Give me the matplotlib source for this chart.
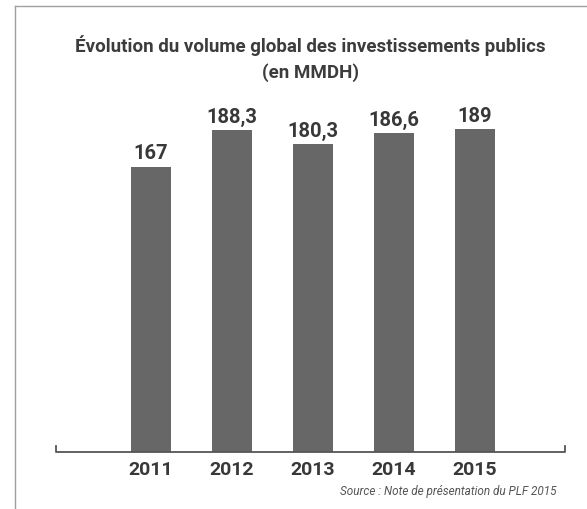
import matplotlib
matplotlib.use("Agg")
import matplotlib.pyplot as plt
from matplotlib.lines import Line2D
from matplotlib import font_manager

years = ["2011", "2012", "2013", "2014", "2015"]
values = [167, 188.3, 180.3, 186.6, 189]
value_labels = ["167", "188,3", "180,3", "186,6", "189"]
title = "Évolution du volume global des investissements publics\n(en MMDH)"
source = "Source : Note de présentation du PLF 2015"

names = {f.name for f in font_manager.fontManager.ttflist}
fam = ["Liberation Sans Narrow"] if "Liberation Sans Narrow" in names else ["Roboto"]
plt.rcParams['font.family'] = fam + ["DejaVu Sans"]

W, H = 587, 510
fig = plt.figure(figsize=(W / 100, H / 100), dpi=100)
fig.patch.set_facecolor("white")

# frame lines (scan border)
fig.add_artist(Line2D([15 / W, 15 / W], [0, 1 - 7 / H], color="#a0a0a0", lw=1.0))
fig.add_artist(Line2D([15 / W, 1], [1 - 7 / H, 1 - 7 / H], color="#a0a0a0", lw=1.0))

ax_left, ax_right = 56 / W, 565 / W
ax_bottom = (H - 453) / H
ax_top = (H - 100) / H
ax = fig.add_axes([ax_left, ax_bottom, ax_right - ax_left, ax_top - ax_bottom])
ax.set_facecolor("none")

x = list(range(len(years)))
bar_color = "#676767"
ax.bar(x, values, width=0.506, color=bar_color, zorder=2)
ax.set_xlim((56 - 151) / 81, (565 - 151) / 81)
ax.set_ylim(0, 189 * 353 / 323)

for xi, v, lab in zip(x, values, value_labels):
    ax.annotate(lab, (xi, v), xytext=(0, 3), textcoords="offset points",
                ha="center", va="bottom", fontsize=14.5, fontweight="bold", color="#383838")

for s in ax.spines.values():
    s.set_visible(False)
ax.set_yticks([])
ax.set_xticks(x)
ax.set_xticklabels(years, fontsize=14, fontweight="bold", color="#383838")
ax.tick_params(axis="x", length=0, pad=6)

# baseline with end ticks
tk = 6 / 353
ax.plot([0, 0, 1, 1], [tk, 0, 0, tk], transform=ax.transAxes, color="#555555",
        lw=1.3, clip_on=False, zorder=3)

fig.text(310 / W, 1 - 59 / H, title, ha="center", va="center", fontsize=13.5,
         fontweight="bold", color="#3c3c3c", linespacing=1.5)
fig.text(557 / W, 1 - 492 / H, source, ha="right", va="center", fontsize=8.5,
         style="italic", color="#555555")

fig.savefig("out.png", dpi=100, facecolor="white")
